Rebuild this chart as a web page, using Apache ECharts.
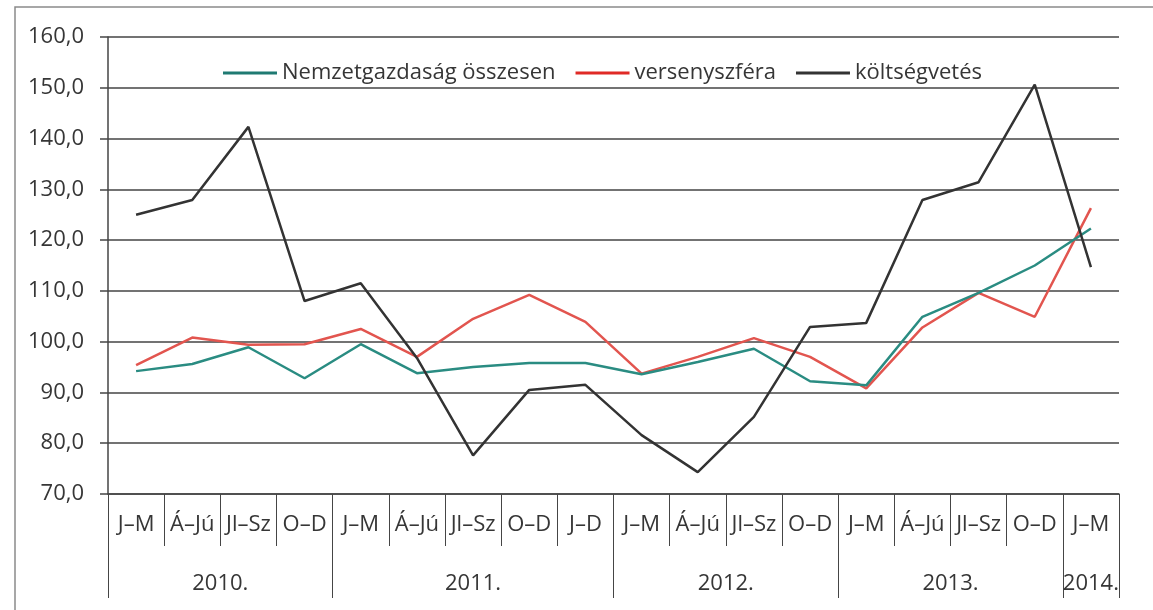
<!DOCTYPE html>
<html>
<head>
<meta charset="utf-8">
<script src="https://cdn.jsdelivr.net/npm/echarts@6/dist/echarts.min.js"></script>
<style>
  html, body { margin: 0; padding: 0; background: #fff; }
  #main { width: 1153px; height: 610px; }
</style>
</head>
<body>
<div id="main"></div>
<script>
// negyedévek (18 kategória)
var quarters = ['J–M', 'Á–Jú', 'Jl–Sz', 'O–D',
  'J–M', 'Á–Jú', 'Jl–Sz', 'O–D', 'J–D',
  'J–M', 'Á–Jú', 'Jl–Sz', 'O–D',
  'J–M', 'Á–Jú', 'Jl–Sz', 'O–D',
  'J–M'];
var years = ['2010.', '2011.', '2012.', '2013.', '2014.'];
var yearSizes = [4, 5, 4, 4, 1];

var nemzetgazdasag = [94.2, 95.6, 98.9, 92.8, 99.5, 93.8, 95.0, 95.8, 95.8,
  93.6, 96.0, 98.6, 92.2, 91.4, 104.9, 109.6, 115.0, 122.3];
var versenyszfera = [95.4, 100.8, 99.4, 99.5, 102.5, 97.0, 104.5, 109.2, 103.9,
  93.7, 97.0, 100.7, 97.0, 90.8, 102.8, 109.6, 104.9, 126.3];
var koltsegvetes = [125.0, 127.9, 142.3, 108.0, 111.5, 96.8, 77.6, 90.5, 91.5,
  81.6, 74.3, 85.2, 102.9, 103.7, 127.9, 131.4, 150.6, 114.7];

var yMin = 70, yMax = 160, yStep = 10;

// év-csoportok határai és közepei
var yearBounds = [0], yearMids = [];
yearSizes.forEach(function (n, i) {
  var s = yearBounds[i];
  yearBounds.push(s + n);
  yearMids.push(s + n / 2);
});

var font = 'Open Sans';
var textColor = '#363636';
var gridColor = '#454545';
var fs = 22;

var chart = echarts.init(document.getElementById('main'));
chart.setOption({
  animation: false,
  textStyle: { fontFamily: font },
  graphic: [{
    type: 'polyline',
    shape: { points: [[15, 610], [15, 7], [1153, 7]] },
    style: { stroke: '#8a8a8a', lineWidth: 1.5, fill: null }
  }],
  legend: {
    top: 57,
    left: 218,
    icon: 'rect',
    itemWidth: 54,
    itemHeight: 3,
    itemGap: 20,
    textStyle: { fontSize: fs, color: textColor, fontFamily: font },
    data: ['Nemzetgazdaság összesen', 'versenyszféra', 'költségvetés']
  },
  grid: { left: 108, right: 34, top: 37, bottom: 116, containLabel: false },
  xAxis: [{
    type: 'category',
    data: quarters,
    boundaryGap: true,
    axisLine: { show: true, lineStyle: { color: gridColor, width: 1.5 } },
    axisTick: { show: true, interval: 0, length: 52, lineStyle: { color: gridColor, width: 1 } },
    axisLabel: { interval: 0, fontSize: fs, color: textColor, margin: 20 }
  }, {
    type: 'value',
    position: 'bottom',
    min: 0,
    max: quarters.length,
    axisLine: { show: false },
    splitLine: { show: false },
    axisTick: { show: true, customValues: yearBounds, length: 104, lineStyle: { color: gridColor, width: 1 } },
    axisLabel: {
      customValues: yearMids,
      fontSize: fs,
      color: textColor,
      margin: 79,
      formatter: function (v) {
        var i = yearMids.indexOf(v);
        return i >= 0 ? years[i] : '';
      }
    }
  }],
  yAxis: {
    type: 'value',
    min: yMin,
    max: yMax,
    interval: yStep,
    axisLine: { show: true, lineStyle: { color: gridColor, width: 1.5 } },
    axisTick: { show: true, length: 8, lineStyle: { color: gridColor, width: 1.5 } },
    splitLine: { show: true, lineStyle: { color: gridColor, width: 1.5 } },
    axisLabel: {
      fontSize: fs,
      color: textColor,
      margin: 24,
      formatter: function (v) { return v.toFixed(1).replace('.', ','); }
    }
  },
  series: [{
    name: 'Nemzetgazdaság összesen',
    type: 'line',
    data: nemzetgazdasag,
    symbol: 'none',
    lineStyle: { color: '#2a8c82', width: 2.5 },
    itemStyle: { color: '#1f7a72' },
    z: 3
  }, {
    name: 'versenyszféra',
    type: 'line',
    data: versenyszfera,
    symbol: 'none',
    lineStyle: { color: '#e2554f', width: 2.5 },
    itemStyle: { color: '#e02a26' },
    z: 2
  }, {
    name: 'költségvetés',
    type: 'line',
    data: koltsegvetes,
    symbol: 'none',
    lineStyle: { color: '#333333', width: 2.5 },
    itemStyle: { color: '#333333' },
    z: 4
  }]
});
</script>
</body>
</html>
